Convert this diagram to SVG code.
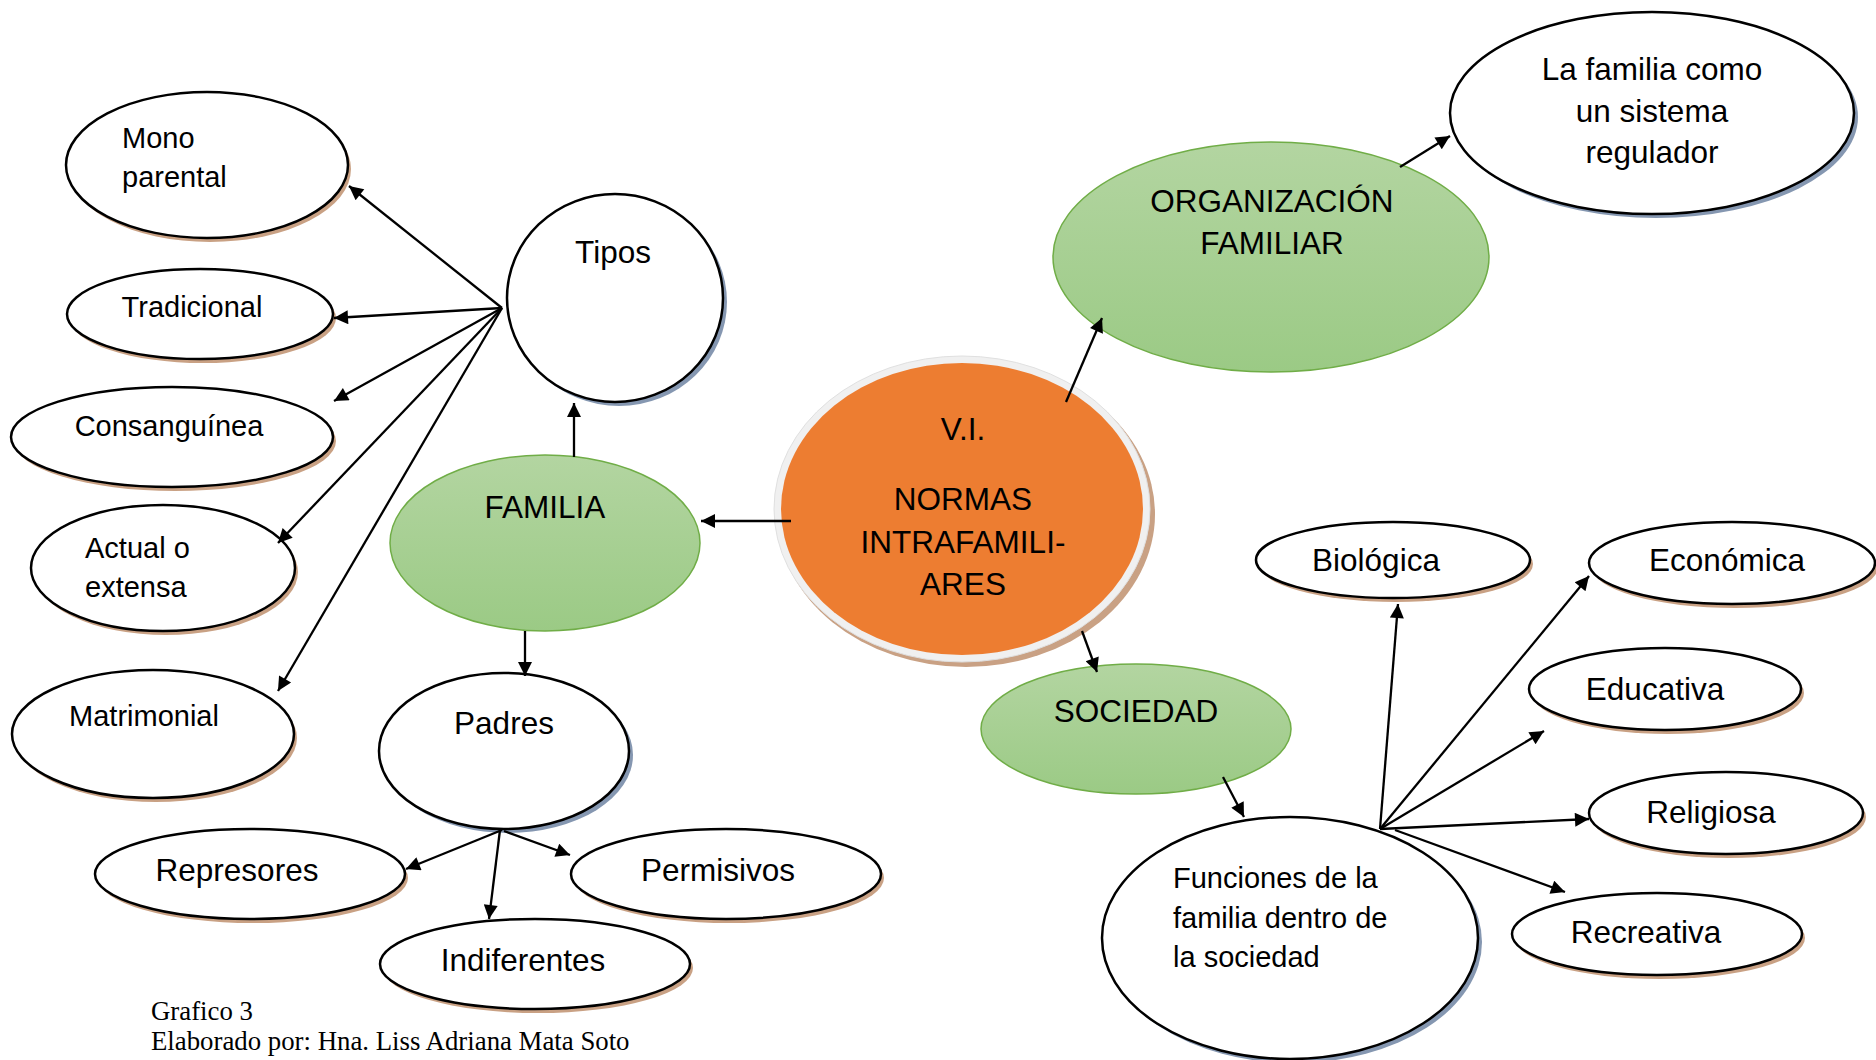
<svg xmlns="http://www.w3.org/2000/svg" width="1876" height="1060" viewBox="0 0 1876 1060">
<defs>
<linearGradient id="green" x1="0" y1="0" x2="0" y2="1">
<stop offset="0" stop-color="#b3d5a1"/>
<stop offset="1" stop-color="#9bca85"/>
</linearGradient>
<marker id="arr" viewBox="0 0 10 10" refX="10" refY="5" markerWidth="18" markerHeight="14" markerUnits="userSpaceOnUse" orient="auto">
<path d="M0,0 L10,5 L0,10 z" fill="#000"/>
</marker>
</defs>
<style>
.w{fill:#fff;stroke:#000;stroke-width:2.5}
.sb{fill:#c9a184}
.sg{fill:#8597b1}
.g{fill:url(#green);stroke:#70ad47;stroke-width:1.5}
.t{font-family:"Liberation Sans",Arial,sans-serif;fill:#000}
.l{font-size:29px}
.m{font-size:31.5px}
.c{text-anchor:middle}
.cn line{stroke:#000;stroke-width:2.3;marker-end:url(#arr)}
.f{font-family:"Liberation Serif","Times New Roman",serif;font-size:26.8px;fill:#000}
</style>

<g id="node-mono">
<ellipse class="sb" cx="210" cy="169" rx="141" ry="73"/>
<ellipse class="w" cx="207" cy="165" rx="141" ry="73"/>
<text class="t l" x="122" y="148">Mono</text>
<text class="t l" x="122" y="187">parental</text>
</g>
<g id="node-tradicional">
<ellipse class="sb" cx="203" cy="318" rx="133" ry="45"/>
<ellipse class="w" cx="200" cy="314" rx="133" ry="45"/>
<text class="t l c" x="192" y="317">Tradicional</text>
</g>
<g id="node-consanguinea">
<ellipse class="sb" cx="175" cy="441" rx="161" ry="50"/>
<ellipse class="w" cx="172" cy="437" rx="161" ry="50"/>
<text class="t l c" x="169" y="436">Consanguínea</text>
</g>
<g id="node-actual">
<ellipse class="sb" cx="166" cy="572" rx="132" ry="63"/>
<ellipse class="w" cx="163" cy="568" rx="132" ry="63"/>
<text class="t l" x="85" y="558">Actual o</text>
<text class="t l" x="85" y="597">extensa</text>
</g>
<g id="node-matrimonial">
<ellipse class="sb" cx="156" cy="738" rx="141" ry="64"/>
<ellipse class="w" cx="153" cy="734" rx="141" ry="64"/>
<text class="t l c" x="144" y="726">Matrimonial</text>
</g>
<g id="node-tipos">
<ellipse class="sg" cx="619" cy="302" rx="108" ry="104"/>
<ellipse class="w" cx="615" cy="298" rx="108" ry="104"/>
<text class="t m c" x="613" y="263">Tipos</text>
</g>
<g id="node-familia">
<ellipse class="g" cx="545" cy="543" rx="155" ry="88"/>
<text class="t m c" x="545" y="518">FAMILIA</text>
</g>
<g id="node-padres">
<ellipse class="sg" cx="508" cy="755" rx="125" ry="78"/>
<ellipse class="w" cx="504" cy="751" rx="125" ry="78"/>
<text class="t m c" x="504" y="734">Padres</text>
</g>
<g id="node-represores">
<ellipse class="sb" cx="253" cy="878" rx="155" ry="45"/>
<ellipse class="w" cx="250" cy="874" rx="155" ry="45"/>
<text class="t m c" x="237" y="881">Represores</text>
</g>
<g id="node-permisivos">
<ellipse class="sb" cx="729" cy="878" rx="155" ry="45"/>
<ellipse class="w" cx="726" cy="874" rx="155" ry="45"/>
<text class="t m c" x="718" y="881">Permisivos</text>
</g>
<g id="node-indiferentes">
<ellipse class="sb" cx="538" cy="968" rx="155" ry="45"/>
<ellipse class="w" cx="535" cy="964" rx="155" ry="45"/>
<text class="t m c" x="523" y="971">Indiferentes</text>
</g>
<g id="node-vi">
<ellipse cx="966" cy="514" rx="189" ry="153" fill="#c9a184"/>
<ellipse cx="962" cy="509" rx="188" ry="153" fill="#f0f0f0" stroke="#e0e0e0" stroke-width="1"/>
<ellipse cx="962" cy="509" rx="181" ry="146" fill="#ed7d31"/>
<text class="t m c" x="963" y="440">V.I.</text>
<text class="t m c" x="963" y="510">NORMAS</text>
<text class="t m c" x="963" y="553">INTRAFAMILI-</text>
<text class="t m c" x="963" y="595">ARES</text>
</g>
<g id="node-organizacion">
<ellipse class="g" cx="1271" cy="257" rx="218" ry="115"/>
<text class="t m c" x="1272" y="212">ORGANIZACIÓN</text>
<text class="t m c" x="1272" y="254">FAMILIAR</text>
</g>
<g id="node-regulador">
<ellipse class="sg" cx="1656" cy="117" rx="202" ry="101"/>
<ellipse class="w" cx="1652" cy="113" rx="202" ry="101"/>
<text class="t m c" x="1652" y="80">La familia como</text>
<text class="t m c" x="1652" y="122">un sistema</text>
<text class="t m c" x="1652" y="163">regulador</text>
</g>
<g id="node-sociedad">
<ellipse class="g" cx="1136" cy="729" rx="155" ry="65"/>
<text class="t m c" x="1136" y="722">SOCIEDAD</text>
</g>
<g id="node-funciones">
<ellipse class="sg" cx="1294" cy="942" rx="188" ry="121"/>
<ellipse class="w" cx="1290" cy="938" rx="188" ry="121"/>
<text class="t l" x="1173" y="888">Funciones de la</text>
<text class="t l" x="1173" y="928">familia dentro de</text>
<text class="t l" x="1173" y="967">la sociedad</text>
</g>
<g id="node-biologica">
<ellipse class="sb" cx="1396" cy="564" rx="137" ry="38"/>
<ellipse class="w" cx="1393" cy="560" rx="137" ry="38"/>
<text class="t m c" x="1376" y="571">Biológica</text>
</g>
<g id="node-economica">
<ellipse class="sb" cx="1735" cy="567" rx="143" ry="41"/>
<ellipse class="w" cx="1732" cy="563" rx="143" ry="41"/>
<text class="t m c" x="1727" y="571">Económica</text>
</g>
<g id="node-educativa">
<ellipse class="sb" cx="1668" cy="693" rx="136" ry="41"/>
<ellipse class="w" cx="1665" cy="689" rx="136" ry="41"/>
<text class="t m c" x="1655" y="700">Educativa</text>
</g>
<g id="node-religiosa">
<ellipse class="sb" cx="1729" cy="817" rx="137" ry="41"/>
<ellipse class="w" cx="1726" cy="813" rx="137" ry="41"/>
<text class="t m c" x="1711" y="823">Religiosa</text>
</g>
<g id="node-recreativa">
<ellipse class="sb" cx="1660" cy="938" rx="145" ry="41"/>
<ellipse class="w" cx="1657" cy="934" rx="145" ry="41"/>
<text class="t m c" x="1646" y="943">Recreativa</text>
</g>

<g id="connectors" class="cn">
<line x1="502" y1="308" x2="349" y2="186"/>
<line x1="502" y1="308" x2="334" y2="318"/>
<line x1="502" y1="308" x2="334" y2="401"/>
<line x1="502" y1="308" x2="278" y2="543"/>
<line x1="502" y1="308" x2="278" y2="691"/>
<line x1="574" y1="457" x2="574" y2="403"/>
<line x1="791" y1="521" x2="701" y2="521"/>
<line x1="525" y1="631" x2="525" y2="676"/>
<line x1="502" y1="830" x2="406" y2="869"/>
<line x1="500" y1="830" x2="489" y2="919"/>
<line x1="504" y1="831" x2="570" y2="855"/>
<line x1="1066" y1="402" x2="1102" y2="318"/>
<line x1="1400" y1="167" x2="1450" y2="136"/>
<line x1="1082" y1="631" x2="1097" y2="672"/>
<line x1="1223" y1="777" x2="1244" y2="817"/>
<line x1="1380" y1="829" x2="1398" y2="604"/>
<line x1="1380" y1="829" x2="1589" y2="576"/>
<line x1="1380" y1="829" x2="1544" y2="731"/>
<line x1="1380" y1="829" x2="1589" y2="819"/>
<line x1="1395" y1="830" x2="1565" y2="892"/>
</g>

<g id="footer">
<text class="f" x="151" y="1020">Grafico 3</text>
<text class="f" x="151" y="1050">Elaborado por: Hna. Liss Adriana Mata Soto</text>
</g>
</svg>
